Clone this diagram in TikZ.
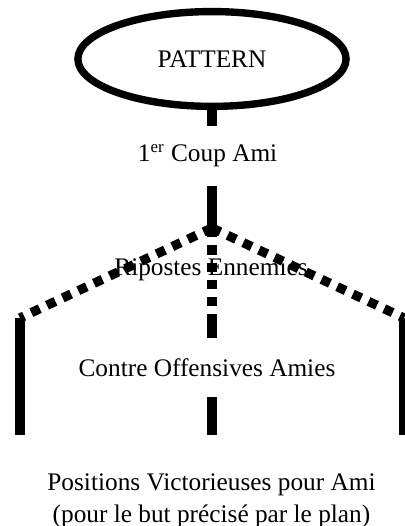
\documentclass[tikz,border=0pt]{standalone}
\usepackage{fontspec}
\setmainfont{Liberation Serif}
\usetikzlibrary{shapes.geometric}

\tikzset{
  solidbranch/.style={line width=4.8pt},
  dotbranch/.style={line width=4.4pt, dash pattern=on 4.4pt off 3.8pt},
  gapnode/.style={inner sep=0pt, minimum height=0.97cm}
}

\begin{document}
\begin{tikzpicture}[font=\fontsize{12}{15}\selectfont]
        \useasboundingbox (0,0) rectangle (6.75,-8.767);

        % Pattern ellipse
        \node[ellipse, draw, line width=3.5pt, minimum width=4.47cm, minimum height=1.58cm, inner sep=0pt] (pattern) at (3.533,-0.983) {PATTERN};

        % Text along the tree
        \node[gapnode] (coup) at (3.46,-2.6) {1\textsuperscript{er} Coup Ami};
        \node (ripostes) at (3.517,-4.5) {Ripostes Ennemies};
        \node[gapnode] (contre) at (3.45,-6.125) {Contre Offensives Amies};
        \node[align=center] (positions) at (3.525,-8.35) {Positions Victorieuses pour Ami\\(pour le but précisé par le plan)};

        % Branch points
        \coordinate (split) at (3.533,-3.8);
        \coordinate (lefttop) at (0.333,-5.3);
        \coordinate (righttop) at (6.733,-5.3);
        \coordinate (midtop) at (3.533,-5.333);
        \coordinate (leftend) at (0.333,-7.25);
        \coordinate (rightend) at (6.733,-7.25);
        \coordinate (midend) at (3.533,-7.25);

        % Trunk
        \draw[solidbranch] (pattern.south) -- (pattern.south |- coup.north);
        \draw[solidbranch] (pattern.south |- coup.south) -- (split);

        % Enemy replies
        \draw[dotbranch] (split) -- (lefttop);
        \draw[dotbranch] (split) -- (midtop);
        \draw[dotbranch] (split) -- (righttop);

        % Friendly counter offensives
        \draw[solidbranch] (lefttop) -- (leftend);
        \draw[solidbranch] (righttop) -- (rightend);
        \draw[solidbranch] (midtop) -- (midtop |- contre.north);
        \draw[solidbranch] (midtop |- contre.south) -- (midend);
    \end{tikzpicture}
\end{document}
